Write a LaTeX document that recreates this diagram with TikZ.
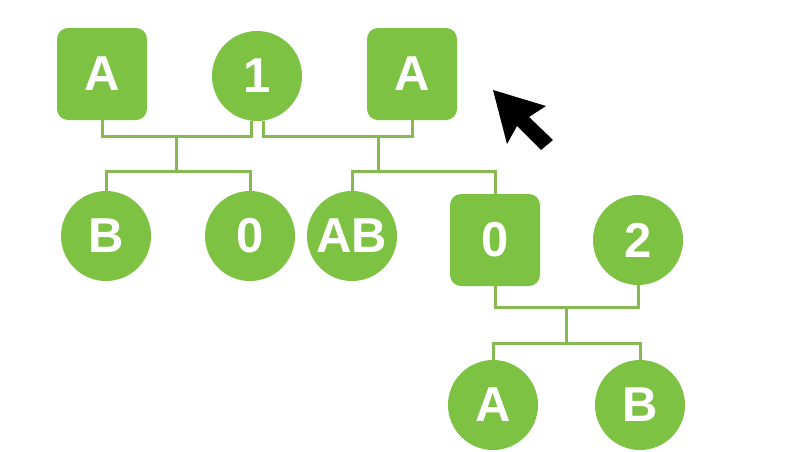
\documentclass[tikz,border=0pt]{standalone}
\usepackage{fontspec}
\setmainfont{Liberation Sans}
\definecolor{nodegreen}{HTML}{7DC243}
\definecolor{linegreen}{HTML}{86B950}
\tikzset{
  box/.style={fill=nodegreen, rounded corners=11pt, minimum width=90pt, minimum height=92pt, inner sep=0pt,
    text=white, font=\fontsize{49}{52}\selectfont\bfseries},
  disc/.style={circle, fill=nodegreen, minimum size=90pt, inner sep=0pt,
    text=white, font=\fontsize{49}{52}\selectfont\bfseries},
  link/.style={draw=linegreen, line width=3pt}
}
\begin{document}
\begin{tikzpicture}[x=1pt,y=-1pt]
\useasboundingbox[fill=white] (0,0) rectangle (786,451);
% top row
\node[box]  (A1) at (102,74) {A};
\node[disc] (n1) at (257,76) {1};
\node[box]  (A3) at (412,74) {A};
% second row
\node[disc] (B)   at (106,236) {B};
\node[disc] (z0)  at (250,236) {0};
\node[disc] (AB)  at (352,236) {AB};
\node[box]  (sq0) at (495,240) {0};
\node[disc] (n2)  at (638,240) {2};
% third row
\node[disc] (cA) at (493,405) {A};
\node[disc] (cB) at (640,405) {B};
% junctions
\coordinate (j1) at (176,136);
\coordinate (k1) at (176,171);
\coordinate (j2) at (378,136);
\coordinate (k2) at (378,171);
\coordinate (j3) at (566,307);
\coordinate (k3) at (566,343);
% connectors
\draw[link] (A1.south) |- (j1) -| ([xshift=-6pt]n1.south);
\draw[link] (j1) -- (k1);
\draw[link] (B.north) |- (k1) -| (z0.north);
\draw[link] ([xshift=6pt]n1.south) |- (j2) -| (A3.south);
\draw[link] (j2) -- (k2);
\draw[link] (AB.north) |- (k2) -| (sq0.north);
\draw[link] (sq0.south) |- (j3) -| (n2.south);
\draw[link] (j3) -- (k3);
\draw[link] (cA.north) |- (k3) -| (cB.north);
% cursor
\fill[black] (493,90) -- (546,106) -- (529,117) -- (553,140) -- (541,150) -- (517,126) -- (507,144) -- cycle;
\end{tikzpicture}
\end{document}
